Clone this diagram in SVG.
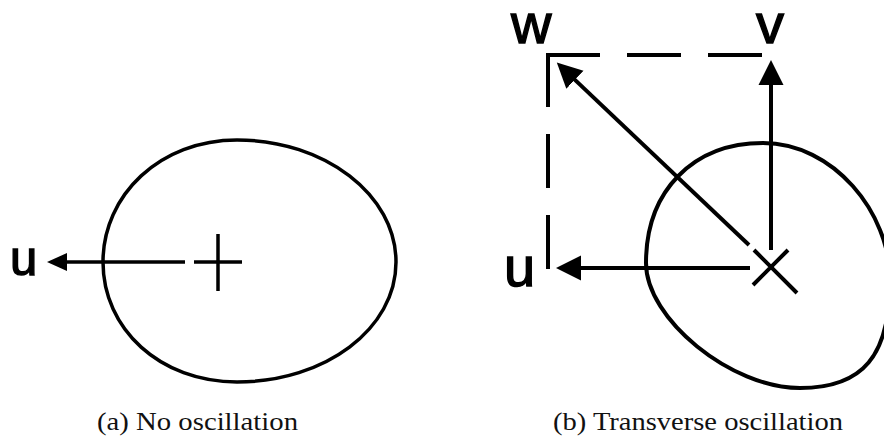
<svg xmlns="http://www.w3.org/2000/svg" width="884" height="439" viewBox="0 0 884 439">
<style>
.ln{fill:none;stroke:#000;stroke-width:4;}
.thin{fill:none;stroke:#000;stroke-width:3.5;}
.dash{fill:none;stroke:#000;stroke-width:4;stroke-dasharray:50 31;stroke-linecap:square;}
.lbl{font-family:"Liberation Sans",Arial,sans-serif;fill:#000;stroke:#000;stroke-width:1.4;}
.cap{font-family:"Liberation Serif","Times New Roman",serif;font-size:26px;fill:#111;}
</style>
<defs>
<marker id="ahS" viewBox="0 -10 21 20" markerWidth="21" markerHeight="20" refX="1" refY="0" orient="auto" markerUnits="userSpaceOnUse">
<path d="M0,-9 L20,0 L0,9 Z" fill="#000"/>
</marker>
<marker id="ahL" viewBox="0 -13 26 26" markerWidth="26" markerHeight="26" refX="1" refY="0" orient="auto" markerUnits="userSpaceOnUse">
<path d="M0,-12.5 L25,0 L0,12.5 Z" fill="#000"/>
</marker>
</defs>
<rect width="884" height="439" fill="#fff"/>

<g id="left-body">
<path class="thin" d="M103,262 C103,195 160,140 237,140 C325,140 396,195 396,262 C396,329 325,382 237,382 C160,382 103,329 103,262 Z"/>
<path class="thin" d="M194,262 H242 M218,234 V291"/>
</g>
<g id="left-label-u">
<text class="lbl" x="10" y="275" font-size="49">u</text>
</g>
<g id="caption-a">
<text class="cap" x="97" y="430" textLength="201" lengthAdjust="spacingAndGlyphs">(a) No oscillation</text>
</g>

<g id="right-body">
<path class="ln" d="M646,263 C646,191 693,143 763,143 C833,143 890,212 890,280 C890,356 863,388 800,388 C731,388 646,319 646,263 Z"/>
<path class="ln" d="M754,250 L797,293 M788,250 L753,285"/>
</g>
<g id="dashed-box">
<path class="dash" d="M548,55 H763"/>
<path class="dash" d="M548,55 V268"/>
</g>
<g id="right-labels">
<text class="lbl" x="511" y="43" font-size="56">w</text>
<text class="lbl" x="756" y="43" font-size="56">v</text>
<text class="lbl" x="504" y="286" font-size="56">u</text>
</g>
<g id="caption-b">
<text class="cap" x="553" y="430" textLength="290" lengthAdjust="spacingAndGlyphs">(b) Transverse oscillation</text>
</g>

<g id="connectors">
<line class="thin" x1="185" y1="262" x2="66" y2="262" marker-end="url(#ahS)"/>
<line class="ln" x1="771" y1="250" x2="771" y2="84" marker-end="url(#ahL)"/>
<line class="ln" x1="750" y1="268" x2="580" y2="268" marker-end="url(#ahL)"/>
<line class="ln" x1="749" y1="245" x2="574.2" y2="79.1" marker-end="url(#ahL)"/>
</g>
</svg>
